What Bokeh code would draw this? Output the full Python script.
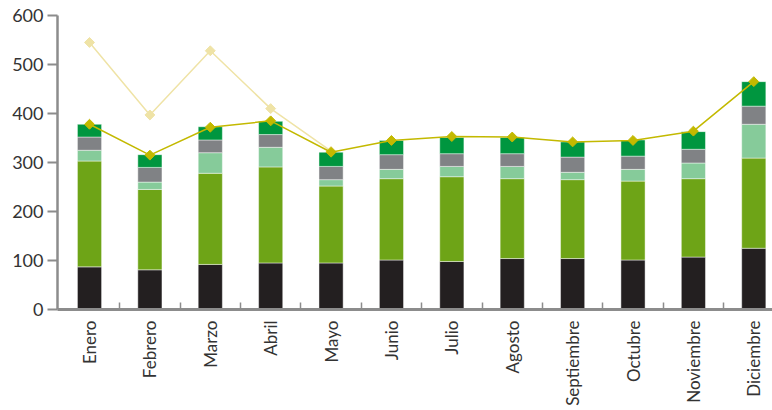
from math import pi
from bokeh.plotting import figure
from bokeh.models import ColumnDataSource, FixedTicker, Range1d
from bokeh.embed import file_html
from bokeh.resources import INLINE

months = ["Enero", "Febrero", "Marzo", "Abril", "Mayo", "Junio", "Julio",
          "Agosto", "Septiembre", "Octubre", "Noviembre", "Diciembre"]
serie_negra = [87, 81, 92, 95, 95, 101, 98, 104, 104, 101, 107, 125]
serie_oliva = [216, 164, 186, 196, 157, 166, 173, 163, 161, 161, 160, 184]
serie_verde_claro = [22, 15, 42, 40, 13, 19, 21, 25, 15, 24, 32, 69]
serie_gris = [27, 30, 26, 26, 27, 30, 26, 26, 31, 27, 28, 37]
serie_verde = [26, 26, 27, 27, 29, 29, 33, 33, 31, 33, 36, 50]
linea_total = [378, 315, 372, 385, 321, 345, 353, 352, 342, 345, 364, 465]
linea_palida = [545, 397, 528, 410, 323]
y_ticks = [0, 100, 200, 300, 400, 500, 600]

xs = list(range(len(months)))
stack_names = ["negra", "oliva", "verde_claro", "gris", "verde"]
colors = ["#231f20", "#6ea417", "#86cb9a", "#808285", "#00963f"]

src = ColumnDataSource(dict(x=xs, negra=serie_negra, oliva=serie_oliva,
                            verde_claro=serie_verde_claro, gris=serie_gris,
                            verde=serie_verde))

p = figure(width=772, height=410, output_backend="svg", toolbar_location=None,
           x_range=Range1d(-0.53, 11.31), y_range=Range1d(0, 600),
           min_border_left=57, min_border_right=0, min_border_top=15,
           min_border_bottom=101)
p.outline_line_color = None
p.xgrid.visible = False
p.ygrid.visible = False
p.background_fill_color = "white"
p.border_fill_color = "white"

p.vbar_stack(stack_names, x="x", width=0.4, source=src, color=colors,
             line_color="white", line_alpha=0.45, line_width=1)

pale_x = xs[:len(linea_palida)]
p.line(pale_x, linea_palida, color="#efe3a6", line_width=1.5)
p.scatter(pale_x, linea_palida, marker="square", angle=pi / 4, size=7,
          color="#efe3a6")
p.line(xs, linea_total, color="#c3b900", line_width=1.5)
p.scatter(xs, linea_total, marker="square", angle=pi / 4, size=7,
          color="#c3b900")

axis_col = "#8c8c8c"
p.yaxis.ticker = FixedTicker(ticks=y_ticks)
p.yaxis.axis_line_color = axis_col
p.yaxis.axis_line_width = 2.5
p.yaxis.major_tick_line_color = axis_col
p.yaxis.major_tick_line_width = 2
p.yaxis.major_tick_in = 0
p.yaxis.major_tick_out = 10
p.yaxis.minor_tick_line_color = None
p.yaxis.major_label_text_font = "Lato"
p.yaxis.major_label_text_font_size = "18px"
p.yaxis.major_label_text_color = "#333333"
p.yaxis.major_label_standoff = 4

p.xaxis.ticker = FixedTicker(ticks=xs, minor_ticks=[i + 0.5 for i in xs[:-1]])
p.xaxis.major_label_overrides = {i: m for i, m in zip(xs, months)}
p.xaxis.major_label_orientation = pi / 2
p.xaxis.axis_line_color = axis_col
p.xaxis.axis_line_width = 3
p.xaxis.major_tick_line_color = None
p.xaxis.minor_tick_line_color = axis_col
p.xaxis.minor_tick_line_width = 1.5
p.xaxis.minor_tick_in = 7
p.xaxis.minor_tick_out = 0
p.xaxis.major_label_text_font = "Lato"
p.xaxis.major_label_text_font_size = "17px"
p.xaxis.major_label_text_color = "#333333"
p.xaxis.major_label_standoff = 5

open("out.html", "w").write(file_html(p, INLINE))
